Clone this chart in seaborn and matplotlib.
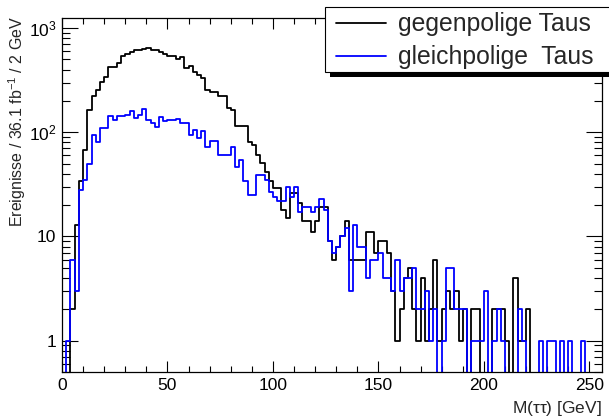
import numpy as np
import pandas as pd
import matplotlib
matplotlib.use("Agg")
import matplotlib.pyplot as plt
import seaborn as sns
from matplotlib.ticker import FixedLocator, FixedFormatter, MultipleLocator, NullFormatter
from matplotlib.patches import Rectangle
from matplotlib.lines import Line2D

# ---- data (2 GeV bins, 0-256 GeV) ----
bin_edges = list(range(0, 258, 2))
label_opp = "gegenpolige Taus"
label_same = "gleichpolige  Taus"

counts_opp = [
    0, 0, 2, 13, 34, 67, 163, 221, 252, 301,
    336, 419, 419, 461, 534, 562, 596, 618, 618, 627,
    650, 612, 612, 596, 560, 534, 534, 504, 526, 413,
    428, 383, 356, 331, 256, 241, 241, 221, 221, 171,
    165, 116, 114, 114, 80, 75, 60, 51, 42, 34,
    29, 29, 18, 15, 26, 26, 21, 14, 14, 11,
    14, 19, 19, 9, 6, 8, 10, 14, 6, 6,
    6, 6, 11, 11, 7, 9, 9, 7, 3, 1,
    2, 4, 5, 2, 1, 4, 1, 2, 6, 1,
    2, 3, 2, 3, 1, 2, 0, 2, 2, 0,
    0, 0, 2, 2, 2, 1, 0, 4, 1, 1,
    2, 0, 0, 0, 0, 0, 0, 0, 0, 0,
    0, 0, 0, 0, 0, 0, 0, 0]

counts_same = [
    0, 1, 6, 3, 28, 35, 50, 95, 81, 110,
    110, 142, 130, 142, 142, 145, 159, 137, 148, 166,
    130, 123, 112, 140, 127, 130, 130, 134, 123, 123,
    95, 106, 88, 102, 72, 82, 82, 60, 60, 61,
    72, 46, 54, 34, 25, 25, 39, 39, 35, 27,
    24, 22, 22, 30, 24, 30, 17, 19, 19, 17,
    19, 23, 18, 9, 7, 8, 10, 12, 3, 13,
    8, 8, 4, 6, 6, 7, 4, 4, 3, 6,
    3, 4, 4, 5, 2, 2, 3, 1, 2, 0,
    1, 5, 5, 2, 2, 2, 0, 1, 1, 1,
    3, 0, 1, 2, 1, 0, 0, 0, 2, 1,
    0, 0, 0, 1, 0, 1, 1, 0, 1, 0,
    1, 0, 0, 1, 0, 0, 0, 0]


def step_frame(counts, label):
    # outline of a histogram: one point per bin edge (last value repeated)
    return pd.DataFrame({"m": bin_edges,
                         "n": list(counts) + [counts[-1]],
                         "sample": label})


df = pd.concat([step_frame(counts_opp, label_opp),
                step_frame(counts_same, label_same)], ignore_index=True)

# ---- style ----
sns.set_theme(style="ticks")
plt.rcParams["font.family"] = ["Liberation Sans", "DejaVu Sans"]
plt.rcParams["mathtext.fontset"] = "custom"
plt.rcParams["mathtext.rm"] = "Liberation Sans"
plt.rcParams["mathtext.it"] = "Liberation Sans:italic"
plt.rcParams["mathtext.default"] = "regular"

W, H = 609, 419
fig = plt.figure(figsize=(W / 100, H / 100), dpi=100)
ax = fig.add_axes([62 / W, 1 - 372 / H, (602 - 62) / W, (372 - 18) / H])

palette = {label_opp: "black", label_same: "#0000ff"}
sns.lineplot(data=df, x="m", y="n", hue="sample", palette=palette,
             hue_order=[label_opp, label_same], estimator=None, sort=False,
             drawstyle="steps-post", linewidth=1.3, legend=False, ax=ax)

ax.set_yscale("log", nonpositive="clip")
ax.set_xlim(0, 256)
ax.set_ylim(0.5, 1250)

# ticks
ax.xaxis.set_major_locator(MultipleLocator(50))
ax.xaxis.set_minor_locator(MultipleLocator(10))
ax.yaxis.set_major_locator(FixedLocator([1, 10, 100, 1000]))
ax.yaxis.set_major_formatter(FixedFormatter(["1", "10", r"$10^{2}$", r"$10^{3}$"]))
minor_y = [m * 10 ** e for e in range(-1, 4) for m in range(2, 10)]
minor_y = [v for v in minor_y if 0.5 <= v <= 1250]
ax.yaxis.set_minor_locator(FixedLocator(minor_y))
ax.yaxis.set_minor_formatter(NullFormatter())

ax.tick_params(axis="both", which="both", direction="in", top=True, right=True,
               width=0.8, color="black", labelsize=12.5, labelcolor="black")
ax.tick_params(axis="x", which="major", length=8, pad=4)
ax.tick_params(axis="x", which="minor", length=4)
ax.tick_params(axis="y", which="major", length=11.5, pad=4)
ax.tick_params(axis="y", which="minor", length=5.8)
for s in ax.spines.values():
    s.set_linewidth(0.9)
    s.set_color("black")

ax.set_xlabel("")
ax.set_ylabel("")
fig.text(602 / W, 1 - 408 / H, r"M($\tau\tau$) [GeV]", ha="right", va="center",
         fontsize=12.5)
fig.text(17 / W, 1 - 16 / H, r"Ereignisse / 36.1 fb$^{-1}$ / 2 GeV", ha="center",
         va="top", rotation=90, fontsize=11.5)

# legend box (ROOT style with black shadow)
shadow = Rectangle((330 / W, 1 - 77 / H), 300 / W, 65 / H, transform=fig.transFigure,
                   facecolor="black", edgecolor="none", zorder=3.5)
box = Rectangle((325 / W, 1 - 72 / H), 300 / W, 65 / H, transform=fig.transFigure,
                facecolor="white", edgecolor="black", linewidth=0.8, zorder=3.6)
fig.patches.extend([shadow, box])

handles = [Line2D([], [], color="black", lw=1.3), Line2D([], [], color="#0000ff", lw=1.3)]
leg = fig.legend(handles, [label_opp, label_same], loc="upper left",
                 bbox_to_anchor=(336 / W, 1 - 12.5 / H),
                 frameon=False, fontsize=17.8,
                 handlelength=2.02, handletextpad=0.49, borderpad=0.0,
                 labelspacing=0.36, borderaxespad=0)
leg.set_zorder(5)

fig.savefig("out.png", dpi=100)
